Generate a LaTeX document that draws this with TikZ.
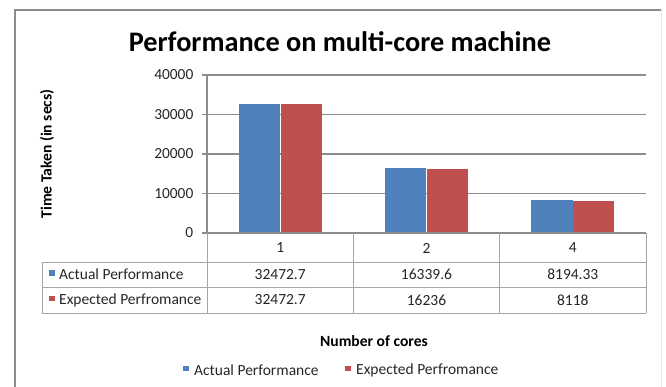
\documentclass[tikz,border=0pt]{standalone}
\usepackage{fontspec}
\setmainfont{Carlito}
\definecolor{xblue}{HTML}{4F81BD}
\definecolor{xred}{HTML}{C0504D}
\definecolor{grid}{HTML}{8C8C8C}
\definecolor{tline}{HTML}{A6A6A6}
\begin{document}
\begin{tikzpicture}[x=1pt,y=-1pt,
  bluebar/.style={fill=xblue,draw=none},
  redbar/.style={fill=xred,draw=none},
  gridline/.style={draw=grid,line width=1.1pt},
  tabline/.style={draw=tline,line width=0.9pt},
  ticklbl/.style={anchor=east,font=\fontsize{15.4}{17}\selectfont,text=black!85,inner sep=0pt},
  cell/.style={font=\fontsize{15.5}{17}\selectfont,text=black!85,inner sep=0pt},
  keysq/.style={minimum size=5.5pt,inner sep=0pt}]
\useasboundingbox (0,0) rectangle (666,387);
% frame
\draw[draw=black!45,line width=1.6pt] (15,387) -- (15,10) -- (661,10);
\draw[draw=black!10,line width=0.8pt] (661,10) -- (661,387);
% title
\node[font=\bfseries\fontsize{28.3}{31}\selectfont] (title) at (340,42) {Performance on multi-core machine};
% axis label
\node[font=\bfseries\fontsize{15.6}{17}\selectfont,rotate=90] (ylab) at (47,154) {Time Taken (in secs)};
% gridlines and ticks
\foreach \v/\y in {40000/75,30000/114.5,20000/154,10000/193.5,0/233}{
  \coordinate (gl\v) at (207,\y);
  \coordinate (gr\v) at (646,\y);
  \coordinate (tk\v) at (202,\y);
  \draw[gridline] (tk\v) -- (gr\v);
  \node[ticklbl] (lab\v) at (193.5,\y) {\v};
}
\draw[gridline] (gl40000) -- (gl0);
% bars
\node[bluebar,minimum width=41pt,minimum height=128.3pt,inner sep=0pt,anchor=south east] (b1a) at (280.5,233) {};
\node[redbar,minimum width=41.5pt,minimum height=128.3pt,inner sep=0pt,anchor=south west] (b1e) at (280.5,233) {};
\node[bluebar,minimum width=41pt,minimum height=64.5pt,inner sep=0pt,anchor=south east] (b2a) at (426.5,233) {};
\node[redbar,minimum width=41pt,minimum height=64.1pt,inner sep=0pt,anchor=south west] (b2e) at (426.5,233) {};
\node[bluebar,minimum width=41.3pt,minimum height=32.4pt,inner sep=0pt,anchor=south east] (b3a) at (572.8,233) {};
\node[redbar,minimum width=41.2pt,minimum height=32.1pt,inner sep=0pt,anchor=south west] (b3e) at (572.8,233) {};
\draw[gridline] (gl0) -- (gr0);
% table
\draw[tabline] (207,233) -- (207,313);
\draw[tabline] (353.3,233) -- (353.3,313);
\draw[tabline] (499.7,233) -- (499.7,313);
\draw[tabline] (646,233) -- (646,313);
\draw[tabline] (42,262) -- (42,313);
\draw[tabline] (42,262) -- (646,262);
\draw[tabline] (42,287.5) -- (646,287.5);
\draw[tabline] (42,313) -- (646,313);
\node[cell] (c1) at (280.2,248) {1};
\node[cell] (c2) at (426.5,248) {2};
\node[cell] (c4) at (572.8,248) {4};
\node[keysq,fill=xblue] (ka) at (52,273) {};
\node[cell,anchor=west] (ra) at (59,274.5) {Actual Performance};
\node[keysq,fill=xred] (ke) at (52,298.5) {};
\node[cell,anchor=west] (re) at (59,300) {Expected Perfromance};
\node[cell] (a1) at (280.2,274.5) {32472.7};
\node[cell] (a2) at (426.5,274.5) {16339.6};
\node[cell] (a4) at (572.8,274.5) {8194.33};
\node[cell] (e1) at (280.2,300) {32472.7};
\node[cell] (e2) at (426.5,300) {16236};
\node[cell] (e4) at (572.8,300) {8118};
% x axis title
\node[cell,font=\bfseries\fontsize{15.6}{17}\selectfont,text=black] (xlab) at (374,341.5) {Number of cores};
% legend
\node[keysq,fill=xblue] (la) at (186,368.5) {};
\node[cell,anchor=west] (lat) at (194,370) {Actual Performance};
\node[keysq,fill=xred] (le) at (348,368.5) {};
\node[cell,anchor=west] (let) at (356,370) {Expected Perfromance};
\end{tikzpicture}
\end{document}
